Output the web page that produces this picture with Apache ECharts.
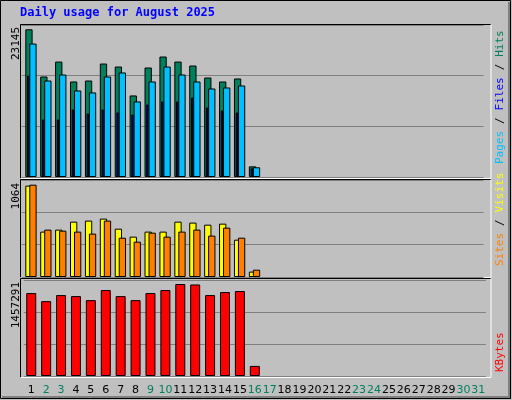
<!DOCTYPE html>
<html>
<head>
<meta charset="utf-8">
<script src="https://cdn.jsdelivr.net/npm/echarts@6/dist/echarts.min.js"></script>
<style>html,body{margin:0;padding:0;background:#c0c0c0}#chart{width:512px;height:400px}</style>
</head>
<body>
<div id="chart"></div>
<script>
var days = [];
for (var d = 1; d <= 31; d++) days.push(String(d));
var weekend = [2, 3, 9, 10, 16, 17, 23, 24, 30, 31];

// (August 1..16, rest empty)
var hits   = [23145,15750,18090,14970,15120,17780,17310,12780,17160,18880,18090,17470,15590,14970,15440,1670];
var pages  = [20910,15120,16060,13560,13250,15750,16380,11840,14970,17310,16060,14970,13870,14030,14340,1520];
var files  = [15900,9020,9020,10590,9960,10590,10120,9800,11370,11840,11840,12460,10900,10430,10120,1360];
var visits = [1053,523,546,638,650,673,557,465,523,523,638,627,603,615,430,62];
var sites  = [1064,546,534,523,500,650,453,407,511,465,523,546,477,569,453,84];
var kbytes = [1314000,1186000,1282000,1266000,1202000,1362000,1266000,1202000,1314000,1362000,1457291,1450000,1282000,1330000,1346000,160000];

var myChart = echarts.init(document.getElementById('chart'));

var panels = [
    {top: 25, height: 152, max: 23820},
    {top: 180, height: 97, max: 1118},
    {top: 280, height: 96, max: 1521000}
];
var catLeft = 25.5, catRight = 24.5;

var grids = [], xAxes = [], yAxes = [], series = [];
function addBar(panel, shift, width, color, data, showSplit, showLabels) {
    var p = panels[panel];
    var i = grids.length;
    grids.push({left: catLeft + shift, right: catRight - shift, top: p.top, height: p.height});
    xAxes.push({
        type: 'category', gridIndex: i, data: days,
        axisLine: {show: false}, axisTick: {show: false},
        axisLabel: showLabels ? {
            show: true, interval: 0, margin: 9,
            fontFamily: 'DejaVu Sans', fontSize: 11,
            formatter: function (v) {
                return weekend.indexOf(+v) >= 0 ? '{g|' + v + '}' : '{k|' + v + '}';
            },
            rich: {g: {color: '#008060', fontSize: 11}, k: {color: '#000', fontSize: 11}}
        } : {show: false}
    });
    yAxes.push({
        type: 'value', gridIndex: i, min: 0, max: p.max, interval: p.max / 3,
        axisLabel: {show: false}, axisLine: {show: false}, axisTick: {show: false},
        splitLine: {show: showSplit, lineStyle: {color: '#808080', width: 1}}
    });
    series.push({
        type: 'bar', xAxisIndex: i, yAxisIndex: i, data: data,
        barWidth: width, silent: true, animation: false,
        itemStyle: {color: color, borderColor: '#000', borderWidth: 1}
    });
}

addBar(0, -4, 7.3, '#00805c', hits, true, false);
addBar(0, 0, 7.3, '#00c0ff', pages, false, false);
addBar(0, -4.8, 2.3, '#0000ff', files, false, false);
addBar(1, -4, 7.3, '#ffff00', visits, true, false);
addBar(1, 0, 7.3, '#ff8000', sites, false, false);
addBar(2, -1.7, 10, '#ff0000', kbytes, true, true);

function frame(y1, y2) {
    return [
        {type: 'line', shape: {x1: 20.5, y1: y1, x2: 491, y2: y1}, style: {stroke: '#000', lineWidth: 1}},
        {type: 'line', shape: {x1: 20.5, y1: y1, x2: 20.5, y2: y2}, style: {stroke: '#000', lineWidth: 1}},
        {type: 'line', shape: {x1: 491, y1: y1, x2: 491, y2: y2}, style: {stroke: '#fff', lineWidth: 1}},
        {type: 'line', shape: {x1: 20.5, y1: y2, x2: 491, y2: y2}, style: {stroke: '#fff', lineWidth: 1}}
    ];
}
function vtext(x, y, str, color) {
    return {type: 'text', x: x, y: y, rotation: Math.PI / 2,
        style: {text: str, fill: color, font: '11px "DejaVu Sans Mono"', align: 'right', verticalAlign: 'middle'}};
}
function rightLabel(yBottom, parts) {
    var out = [], y = yBottom;
    parts.forEach(function (pt) {
        out.push(vtext(500, y, pt[0], pt[1]));
        y -= pt[0].length * 6.7;
    });
    return out;
}

var graphics = [
    {type: 'rect', shape: {x: 0.5, y: 0.5, width: 510, height: 398}, style: {fill: 'none', stroke: '#000', lineWidth: 1}, z: 10},
    {type: 'line', shape: {x1: 2, y1: 397.5, x2: 511, y2: 397.5}, style: {stroke: '#808080', lineWidth: 3}},
    {type: 'line', shape: {x1: 509.5, y1: 2, x2: 509.5, y2: 398}, style: {stroke: '#808080', lineWidth: 3}},
    {type: 'text', x: 20, y: 13, style: {text: 'Daily usage for August 2025', fill: '#0000ff', font: 'bold 12px "DejaVu Sans Mono"', verticalAlign: 'middle'}},
    vtext(16, 27, '23145', '#000'),
    vtext(16, 183, '1064', '#000'),
    vtext(16, 282, '1457291', '#000')
].concat(frame(24.5, 178.5), frame(179.5, 277.5), frame(278.5, 377.5))
 .concat(rightLabel(164, [['Pages', '#00c0ff'], [' / ', '#000'], ['Files', '#0000ff'], [' / ', '#000'], ['Hits', '#00805c']]))
 .concat(rightLabel(266, [['Sites', '#ff8000'], [' / ', '#000'], ['Visits', '#ffff00']]))
 .concat(rightLabel(372, [['KBytes', '#ff0000']]));

// vtext anchors from the given y downward; flip for right labels so they read bottom-to-top
graphics.forEach(function (g) {
    if (g.type === 'text' && g.x === 500) {
        g.rotation = Math.PI / 2;
        g.style.align = 'left';
    }
});

myChart.setOption({
    backgroundColor: '#c0c0c0',
    animation: false,
    grid: grids,
    xAxis: xAxes,
    yAxis: yAxes,
    series: series,
    graphic: graphics
});
</script>
</body>
</html>
